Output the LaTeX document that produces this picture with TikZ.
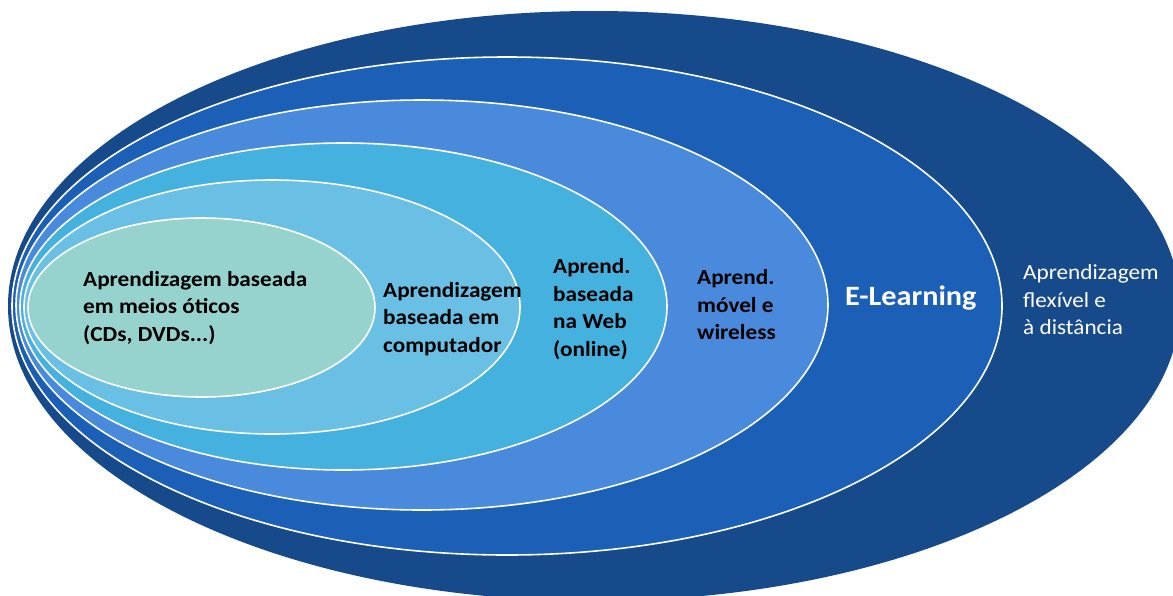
\documentclass[tikz,border=0pt]{standalone}
\usepackage{fontspec}
\setmainfont{Carlito}
\newfontfamily\widefont[FakeStretch=1.08]{Carlito}
\definecolor{cA}{HTML}{174A8B}
\definecolor{cB}{HTML}{1B5FB6}
\definecolor{cC}{HTML}{4A8ADC}
\definecolor{cD}{HTML}{45B1DF}
\definecolor{cE}{HTML}{69C0E4}
\definecolor{cF}{HTML}{96D3CF}
\begin{document}
\begin{tikzpicture}[x=1pt,y=-1pt,
  ring/.style={draw=white,line width=1.6pt},
  lbl/.style={anchor=west,align=left,inner sep=0pt,font=\widefont\fontsize{21.5}{27.5}\selectfont\bfseries,text=black},
  wlbl/.style={anchor=west,align=left,inner sep=0pt,font=\widefont\fontsize{21.5}{27.5}\selectfont,text=white}]
\useasboundingbox (0,0) rectangle (1173,595);
\clip (0,0) rectangle (1173,595);
\fill[cA] (594,306) ellipse [x radius=586pt, y radius=295pt];
\path[ring,fill=cB] (507,306) ellipse [x radius=495pt, y radius=249pt];
\path[ring,fill=cC] (422,305) ellipse [x radius=406pt, y radius=205pt];
\path[ring,fill=cD] (343.5,306.5) ellipse [x radius=323.5pt, y radius=163.5pt];
\path[ring,fill=cE] (272,307) ellipse [x radius=248pt, y radius=127pt];
\path[ring,fill=cF] (201.5,307.5) ellipse [x radius=173.5pt, y radius=89.5pt];
\node[lbl] (t1) at (83,308) {Aprendizagem baseada\\em meios óticos\\(CDs, DVDs...)};
\node[lbl] (t2) at (383,319) {Aprendizagem\\baseada em\\computador};
\node[lbl] (t3) at (553,309) {Aprend.\\baseada\\na Web\\(online)};
\node[lbl] (t4) at (697,305) {Aprend.\\móvel e\\wireless};
\node[anchor=west,inner sep=0pt,font=\widefont\fontsize{28}{32}\selectfont\bfseries,text=white] (t5) at (845,298) {E-Learning};
\node[wlbl] (t6) at (1023,300) {Aprendizagem\\flexível e\\à distância};
\end{tikzpicture}
\end{document}
